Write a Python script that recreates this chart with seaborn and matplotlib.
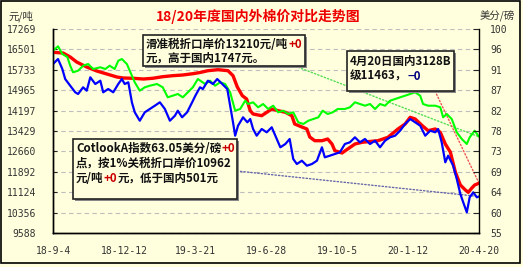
import numpy as np
import pandas as pd
import matplotlib
matplotlib.use('Agg')
import matplotlib.pyplot as plt
import matplotlib.dates as mdates
from matplotlib.patches import Rectangle
import seaborn as sns

# ---------------- data ----------------
start_date = '2018-09-04'

red_day = [0, 14, 24, 33, 47, 61, 75, 89, 98, 112, 126, 139, 153, 167, 181, 195, 205, 216, 230, 244,
           251, 257, 264, 270, 275, 279, 291, 305, 314, 324, 333, 337, 347, 354, 358, 365, 375, 383, 389, 393,
           403, 411, 421, 431, 439, 453, 467, 481, 491, 498, 505, 515, 523, 533, 540, 547, 554, 561, 568, 575,
           579, 584, 588, 594]
red_val = [16392, 16365, 16215, 16026, 15838, 15688, 15575, 15462, 15424, 15413, 15386, 15413, 15473, 15511,
           15537, 15586, 15631, 15699, 15737, 15699, 15511, 15085, 14758, 14633, 14193, 14069, 14005, 14257,
           14193, 14133, 14005, 13692, 13579, 13504, 13203, 13063, 13063, 13127, 12939, 12687, 12600, 12751,
           12939, 13003, 13026, 13063, 13191, 13504, 13692, 13944, 13880, 13628, 13440, 13504, 13380, 12939,
           12638, 11885, 11395, 11207, 11120, 11282, 11395, 11463]

green_day = [0, 7, 13, 20, 24, 28, 35, 42, 49, 56, 66, 73, 79, 86, 91, 96, 103, 107, 114, 121,
             128, 135, 145, 153, 160, 167, 174, 181, 188, 195, 202, 212, 219, 226, 233, 240, 247, 254, 261, 268,
             272, 279, 286, 293, 300, 307, 314, 321, 328, 335, 342, 349, 356, 363, 370, 376, 383, 390, 397, 407,
             414, 421, 428, 435, 442, 449, 456, 463, 470, 477, 484, 491, 498, 505, 512, 516, 523, 533, 540, 544,
             549, 556, 563, 570, 577, 581, 588, 594]
green_val = [16452, 16618, 16328, 16215, 15887, 15639, 15699, 15887, 15951, 15763,
             15827, 15763, 15887, 15763, 16075, 16139, 15951, 15699, 15262, 14946,
             15074, 15134, 15198, 15074, 14697, 14758, 14822, 14697, 14886, 15074,
             15386, 15198, 15322, 15134, 15262, 15198, 14886, 14193, 14257, 14569,
             14445, 14509, 14321, 14445, 14257, 14381, 14133, 14193, 14069, 14133,
             13756, 13692, 13816, 13880, 13944, 14193, 14069, 14133, 14257, 14257,
             14321, 14509, 14445, 14381, 14445, 14257, 14445, 14381, 14569, 14633,
             14697, 14758, 14822, 14886, 14758, 14445, 14381, 14381, 14321, 13944,
             14069, 13880, 13380, 13127, 12939, 13191, 13440, 13210]

blue_day = [0, 7, 13, 17, 24, 31, 35, 42, 47, 52, 59, 66, 70, 77, 84, 91, 96, 100, 105, 110,
            114, 121, 128, 135, 142, 149, 156, 163, 170, 174, 180, 187, 194, 199, 205, 209, 216, 223, 229, 236,
            243, 247, 251, 254, 258, 265, 271, 275, 279, 284, 291, 298, 305, 312, 317, 324, 330, 335, 340, 347,
            354, 361, 368, 375, 379, 386, 393, 400, 407, 414, 421, 428, 435, 442, 449, 456, 463, 470, 477, 484,
            491, 498, 505, 512, 519, 526, 533, 537, 542, 547, 551, 558, 563, 568, 572, 577, 581, 586, 591, 594]
blue_val = [15951, 16139, 15763, 15386, 15134, 14886, 14822, 15074, 14946, 15450,
            15198, 15322, 14886, 15010, 14886, 15198, 15386, 15198, 15262, 14509,
            14133, 13816, 14133, 14257, 14381, 14509, 14257, 13816, 14005, 14193,
            13944, 14133, 14509, 14784, 15074, 15010, 15322, 15198, 15386, 15198,
            15010, 14381, 13756, 13252, 13628, 13944, 13756, 13880, 13504, 13252,
            13504, 13380, 13568, 13127, 12815, 12939, 13127, 12374, 12186, 12310,
            12122, 12186, 12310, 12815, 12438, 12499, 12562, 12627, 12939, 13003,
            13191, 13003, 13127, 12939, 13063, 12815, 13063, 13191, 13252, 13440,
            13692, 13880, 13756, 13628, 13252, 13440, 13380, 13504, 13003, 12250,
            12499, 12122, 11621, 11056, 10744, 10367, 10932, 11120, 10932, 10962]

x_tick_dates = ['2018-09-04', '2018-12-12', '2019-03-21', '2019-06-28', '2019-10-05', '2020-01-12', '2020-04-20']
x_tick_labels = ['18-9-4', '18-12-12', '19-3-21', '19-6-28', '19-10-5', '20-1-12', '20-4-20']
left_ticks = [9588, 10356, 11124, 11892, 12660, 13429, 14197, 14965, 15733, 16501, 17269]
left_labels = ['9588', '10356', '11124', '11892', '12660', '13429', '14197', '14965', '15733', '16501', '17269']
right_labels = ['55', '60', '64', '69', '73', '78', '82', '87', '91', '96', '100']

title = '18/20年度国内外棉价对比走势图'
left_unit = '元/吨'
right_unit = '美分/磅'

# ---------------- style ----------------
sns.set_style('white')
plt.rcParams['font.family'] = ['Noto Sans CJK SC', 'DejaVu Sans']
BG = '#FFFFDE'

W, H = 523, 267
fig = plt.figure(figsize=(W / 100, H / 100), dpi=100, facecolor=BG)
ax = fig.add_axes([53 / W, 34 / H, 426 / W, 204 / H])
ax.set_facecolor(BG)

start = pd.Timestamp(start_date)


def frame(days, vals):
    return pd.DataFrame({'date': start + pd.to_timedelta(days, unit='D'), 'v': vals})


red_df = frame(red_day, red_val)
green_df = frame(green_day, green_val)
blue_df = frame(blue_day, blue_val)

sns.lineplot(data=red_df, x='date', y='v', ax=ax, color='#FF0000', lw=2.4, zorder=3)
sns.lineplot(data=green_df, x='date', y='v', ax=ax, color='#00FF00', lw=1.5, zorder=4)
sns.lineplot(data=blue_df, x='date', y='v', ax=ax, color='#0000FF', lw=1.6, zorder=4)

ax.set_xlim(start, pd.Timestamp(x_tick_dates[-1]))
ax.set_ylim(left_ticks[0], left_ticks[-1])
ax.set_yticks(left_ticks)
ax.set_yticklabels(left_labels)
ax.set_xticks(pd.to_datetime(x_tick_dates))
ax.set_xticklabels(x_tick_labels)
ax.set_xlabel('')
ax.set_ylabel('')
ax.yaxis.grid(True, color='#BEBEBE', ls=(0, (4, 3)), lw=0.8)
ax.xaxis.grid(False)

ax2 = ax.twinx()
ax2.set_ylim(55, 100)
ax2.set_yticks(np.linspace(55, 100, len(right_labels)))
ax2.set_yticklabels(right_labels)
ax2.grid(False)

for a in (ax, ax2):
    a.spines['top'].set_visible(False)
    for s in ('left', 'right', 'bottom'):
        a.spines[s].set_color('black')
        a.spines[s].set_linewidth(1.0)
ax.spines['right'].set_visible(False)

ax.tick_params(axis='y', direction='in', length=3, width=0.8, pad=12, labelsize=7, labelcolor='#333333')
ax.tick_params(axis='x', direction='in', length=4, width=0.8, pad=9, labelsize=7, labelcolor='#333333')
ax2.tick_params(axis='y', direction='in', length=4, width=0.8, pad=8, labelsize=7, labelcolor='#333333')
for lab in ax.get_yticklabels() + ax.get_xticklabels() + ax2.get_yticklabels():
    lab.set_fontfamily('DejaVu Sans Mono')

# titles / units
fig.text(258 / W, 1 - 16 / H, title, ha='center', va='center', color='#EE0000',
         fontsize=10, fontweight='bold')
fig.text(8 / W, 1 - 16 / H, left_unit, ha='left', va='center', color='#333333', fontsize=7.5)
fig.text(515 / W, 1 - 16 / H, right_unit, ha='right', va='center', color='#333333', fontsize=7.5)


# ---------------- annotation boxes ----------------
def px2ax(px, py):
    return (px - 53) / 426, (233 - py) / 204


def box(x0, y0, x1, y1):
    ax0, ay1 = px2ax(x0, y0)
    ax1, ay0 = px2ax(x1, y1)
    ax.add_patch(Rectangle((ax0 + 0.004, ay0 - 0.008), ax1 - ax0, ay1 - ay0, transform=ax.transAxes,
                           facecolor='#888888', edgecolor='none', zorder=5, clip_on=False))
    ax.add_patch(Rectangle((ax0, ay0), ax1 - ax0, ay1 - ay0, transform=ax.transAxes,
                           facecolor=BG, edgecolor='#222222', lw=1.2, zorder=6, clip_on=False))


def line_text(px, py, parts, size=8.3):
    x, y = px2ax(px, py)
    prev = None
    for txt, col in parts:
        if prev is None:
            prev = ax.text(x, y, txt, transform=ax.transAxes, ha='left', va='center', color=col,
                           fontsize=size, fontweight='bold', zorder=7)
        else:
            prev = ax.annotate(txt, xy=(1, 0.5), xycoords=prev, ha='left', va='center', color=col,
                               fontsize=size, fontweight='bold', zorder=7)


BLACK, DRED, DBLUE = '#111111', '#CC0000', '#000080'

box(143, 35, 305, 66)
line_text(146, 44, [('滑准税折口岸价13210元/吨', BLACK), ('+0', DRED)])
line_text(146, 58.5, [('元，高于国内1747元。', BLACK)])

box(73, 139, 237, 199)
line_text(76, 148, [('CotlookA指数63.05美分/磅', BLACK), ('+0', DRED)])
line_text(76, 163, [('点，按1%关税折口岸价10962', BLACK)])
line_text(76, 178, [('元/吨', BLACK), ('+0', DRED), ('元，低于国内501元', BLACK)])

box(347, 51, 454, 91)
line_text(350, 61, [('4月20日国内3128B', BLACK)])
line_text(350, 76, [('级11463，', BLACK), ('−0', DBLUE)])


# dotted connectors from boxes to latest points
def connector(px, py, df, col):
    end = (mdates.date2num(df['date'].iloc[-1]), df['v'].iloc[-1])
    ax.annotate('', xy=end, xycoords='data', xytext=px2ax(px, py), textcoords='axes fraction',
                arrowprops=dict(arrowstyle='-', ls=(0, (1, 1.5)), color=col, lw=1.0,
                                shrinkA=0, shrinkB=0), zorder=2)


connector(295, 66, green_df, '#55DD55')
connector(435, 91, red_df, '#EE5555')
connector(237, 171, blue_df, '#6666AA')

# outer frame
fig.patches.append(Rectangle((1 / W, 4 / H), 519 / W, 262 / H, transform=fig.transFigure,
                             facecolor='none', edgecolor='black', lw=1.2))

fig.savefig('out.png', dpi=100, facecolor=BG)
